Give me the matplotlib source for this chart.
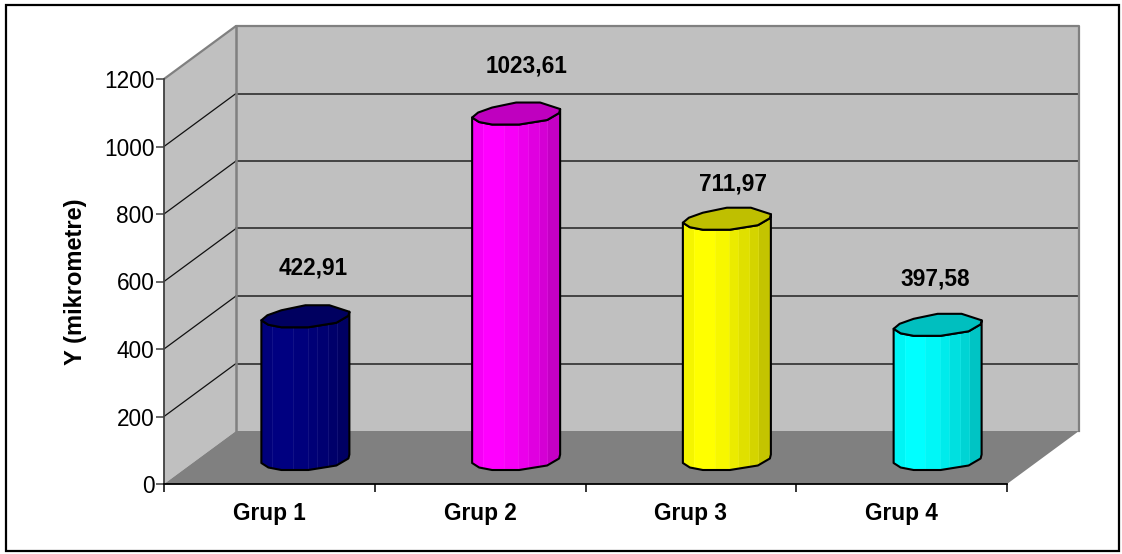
import numpy as np
import matplotlib
matplotlib.use('Agg')
import matplotlib.pyplot as plt
from matplotlib.patches import Polygon, Rectangle
from matplotlib.colors import to_rgb

plt.rcParams['font.family'] = ['Liberation Sans', 'DejaVu Sans']

# data
groups = ['Grup 1', 'Grup 2', 'Grup 3', 'Grup 4']
values = [422.91, 1023.61, 711.97, 397.58]
value_labels = ['422,91', '1023,61', '711,97', '397,58']
yticks = [0, 200, 400, 600, 800, 1000, 1200]
colors = ['#000080', '#FF00FF', '#FFFF00', '#00FFFF']

# label nudges, in pixels from the centre of each cylinder top
label_dx = [8, 10, 6, -2]
label_dy = [48, 48, 35, 46]

W, H = 1122, 554
fig = plt.figure(figsize=(W / 100, H / 100), dpi=100, facecolor='white')

# front plane of the 3d box, pixels
left, right, top, bottom = 164, 1007, 79, 484
ax = fig.add_axes([left / W, 1 - bottom / H, (right - left) / W, (bottom - top) / H])
ax.set_xlim(0, len(groups))
ax.set_ylim(0, yticks[-1])
ax.patch.set_visible(False)

# one pixel in data units
px = len(groups) / (right - left)
py = yticks[-1] / (bottom - top)
depth_x = 72 * px
depth_y = 53 * py
xmax = len(groups)
ymax = yticks[-1]

WALL = '#C0C0C0'
FLOOR = '#808080'
EDGE = '#808080'

# walls and floor
ax.add_patch(Polygon([(0, 0), (depth_x, depth_y), (depth_x, ymax + depth_y), (0, ymax)],
                     fc=WALL, ec='none', clip_on=False, zorder=1))
ax.add_patch(Polygon([(depth_x, depth_y), (xmax + depth_x, depth_y),
                      (xmax + depth_x, ymax + depth_y), (depth_x, ymax + depth_y)],
                     fc=WALL, ec='none', clip_on=False, zorder=1))
ax.add_patch(Polygon([(0, 0), (xmax, 0), (xmax + depth_x, depth_y), (depth_x, depth_y)],
                     fc=FLOOR, ec='none', clip_on=False, zorder=1))

# gridlines, side wall then back wall
for t in yticks[1:-1]:
    ax.plot([0, depth_x], [t, t + depth_y], color='#111111', lw=0.9, clip_on=False, zorder=2)
    ax.plot([depth_x, xmax + depth_x], [t + depth_y, t + depth_y], color='#222222', lw=1.1,
            clip_on=False, zorder=2)

# wall edges
ax.plot([0, depth_x, xmax + depth_x, xmax + depth_x], [ymax, ymax + depth_y, ymax + depth_y, depth_y],
        color=EDGE, lw=1.6, clip_on=False, zorder=3)
ax.plot([depth_x, depth_x], [depth_y, ymax + depth_y], color=EDGE, lw=1.8, clip_on=False, zorder=3)

# faceted cap outline, pixel offsets from the centre (y up)
upper = [(-44, -4), (-38, 1), (-24, 6), (0, 11), (24, 11), (44, 4.5)]
lower = [(44, 4.5), (43, 0.5), (31, -6.5), (3, -11), (-24, -11), (-37, -8.5), (-44, -4)]

# side facets, fraction of the width and brightness
facet_edges = [0.0, 0.125, 0.36, 0.525, 0.63, 0.755, 0.855, 1.0]
facet_shade = [0.96, 1.0, 0.97, 0.92, 0.88, 0.83, 0.77]


def offset(points, cx, cy):
    return [(cx + a * px, cy + b * py) for a, b in points]


for i, (val, col) in enumerate(zip(values, colors)):
    cx = i + 0.5 + depth_x / 2
    cy0 = depth_y / 2 - 1.5 * py
    cy1 = cy0 + val
    rgb = np.array(to_rgb(col))

    body = offset(lower, cx, cy1) + offset(lower, cx, cy0)[::-1]
    shape = Polygon(body, closed=True, transform=ax.transData)
    x0 = cx - 44 * px
    width = 88 * px
    for j, shade in enumerate(facet_shade):
        r = Rectangle((x0 + width * facet_edges[j], cy0 - 15 * py),
                      width * (facet_edges[j + 1] - facet_edges[j]), val + 30 * py,
                      fc=rgb * shade, ec='none', zorder=4)
        ax.add_patch(r)
        r.set_clip_path(shape)
    for e in facet_edges[1:-1]:
        ln, = ax.plot([x0 + width * e] * 2, [cy0 - 15 * py, cy1 + 15 * py],
                      color=np.minimum(rgb * 0.8 + 0.2, 1), lw=0.5, alpha=0.5, zorder=5)
        ln.set_clip_path(shape)

    ax.add_patch(Polygon(body, closed=True, fc='none', ec='black', lw=1.5, zorder=6,
                         joinstyle='round', clip_on=False))
    ax.add_patch(Polygon(offset(upper + lower[1:-1], cx, cy1), closed=True, fc=rgb * 0.75,
                         ec='black', lw=1.5, zorder=7, joinstyle='round', clip_on=False))

    ax.annotate(value_labels[i], (cx, cy1), xytext=(label_dx[i], label_dy[i]),
                textcoords='offset pixels', ha='center', va='center',
                fontsize=16.3, fontweight='bold', color='black', zorder=8)

# axes
for s in ['top', 'right']:
    ax.spines[s].set_visible(False)
ax.spines['left'].set_color('#404040')
ax.spines['left'].set_linewidth(1.3)
ax.spines['bottom'].set_color('black')
ax.spines['bottom'].set_linewidth(1.3)
for s in ax.spines.values():
    s.set_zorder(9)

ax.set_yticks(yticks)
ax.tick_params(axis='y', labelsize=16.3, length=5.5, width=1.1, color='#404040', pad=1.5)
ax.set_xticks(np.arange(len(groups) + 1))
ax.set_xticklabels([])
ax.tick_params(axis='x', which='major', length=5.5, width=1.1, color='black')
ax.set_xticks(np.arange(len(groups)) + 0.5, minor=True)
ax.set_xticklabels(groups, minor=True, fontsize=16.3, fontweight='bold')
ax.tick_params(axis='x', which='minor', length=0, pad=13)

ax.set_ylabel('Y (mikrometre)', fontsize=17, fontweight='bold')
ax.yaxis.set_label_coords((87 - left) / (right - left), (bottom - 282) / (bottom - top))

# chart area border
fig.add_artist(Rectangle((6 / W, 1 - 551 / H), (1119 - 6) / W, (551 - 5) / H,
                         transform=fig.transFigure, fc='none', ec='black', lw=1.6))

fig.savefig('out.png', dpi=100)
